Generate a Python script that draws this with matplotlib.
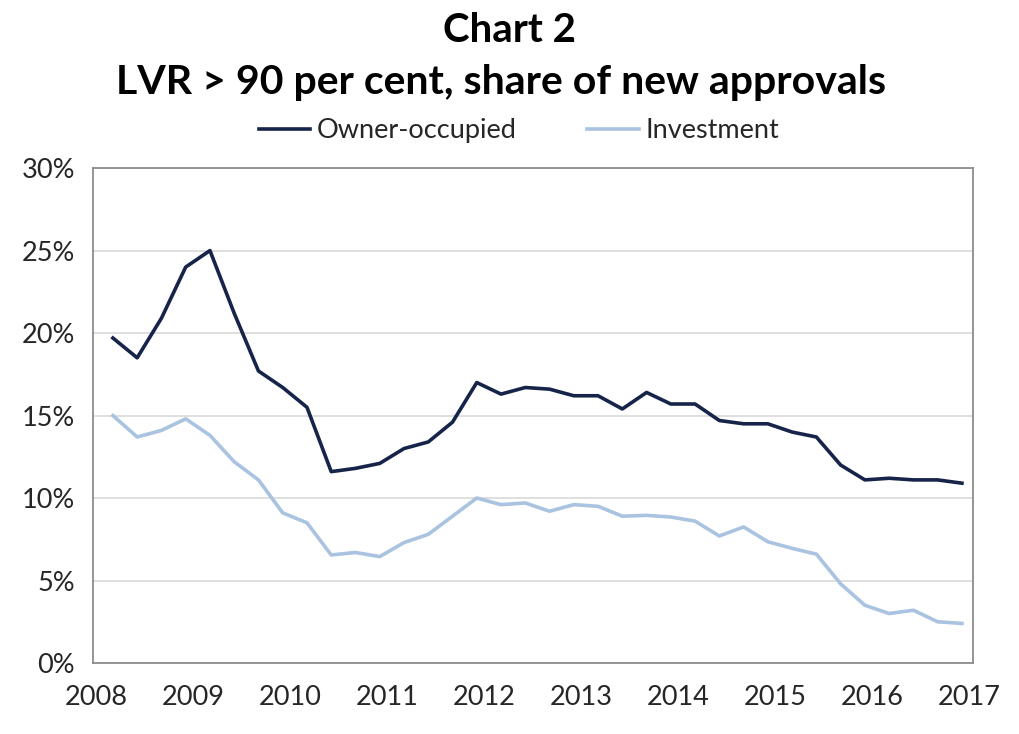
import numpy as np
import matplotlib
matplotlib.use("Agg")
import matplotlib.pyplot as plt
import matplotlib.ticker as ticker

plt.rcParams['font.family'] = ['Lato', 'DejaVu Sans']

# quarterly data, Q1 2008 - Q4 2016 (per cent)
owner_occupied = [19.7, 18.5, 20.9, 24.0, 25.0, 21.2, 17.7, 16.7, 15.5,
                  11.6, 11.8, 12.1, 13.0, 13.4, 14.6, 17.0, 16.3, 16.7,
                  16.6, 16.2, 16.2, 15.4, 16.4, 15.7, 15.7, 14.7, 14.5,
                  14.5, 14.0, 13.7, 12.0, 11.1, 11.2, 11.1, 11.1, 10.9]
investment = [15.0, 13.7, 14.1, 14.8, 13.8, 12.2, 11.1, 9.1, 8.5,
              6.55, 6.7, 6.45, 7.3, 7.8, 8.9, 10.0, 9.6, 9.7,
              9.2, 9.6, 9.5, 8.9, 8.95, 8.85, 8.6, 7.7, 8.25,
              7.35, 6.95, 6.6, 4.8, 3.5, 3.0, 3.2, 2.5, 2.4]
years = list(range(2008, 2018))
y_ticks = [0, 5, 10, 15, 20, 25, 30]

dark = '#17244A'
light = '#A9C3E0'

# quarter positions on a decimal-year axis
x = 2008.175 + 0.25 * np.arange(len(owner_occupied))

fig = plt.figure(figsize=(10.2, 7.34), dpi=100)
ax = fig.add_axes([0.0912, 0.0967, 0.8628, 0.6743])

ax.plot(x, owner_occupied, color=dark, lw=2.6, label='Owner-occupied', zorder=3)
ax.plot(x, investment, color=light, lw=2.6, label='Investment', zorder=3)

ax.set_xlim(2007.97, 2017.04)
ax.set_ylim(0, 30)
ax.set_xticks(years)
ax.set_xticklabels([str(yr) for yr in years])
ax.set_yticks(y_ticks)
ax.yaxis.set_major_formatter(ticker.FuncFormatter(lambda v, p: f'{int(v)}%'))
ax.tick_params(length=0, labelsize=19.5, colors='#262626')
ax.tick_params(axis='x', pad=16)
ax.tick_params(axis='y', pad=13)

ax.grid(axis='y', color='#D9D9D9', lw=1.2, zorder=0)
for sp in ax.spines.values():
    sp.set_color('#8C8C8C')
    sp.set_linewidth(1.3)

fig.text(0.5, 0.958, 'Chart 2', ha='center', va='center',
         fontsize=29, fontweight='bold', color='black')
fig.text(0.491, 0.888, 'LVR > 90 per cent, share of new approvals', ha='center',
         va='center', fontsize=29.5, fontweight='bold', color='black')

fig.legend(loc='center', bbox_to_anchor=(0.509, 0.822), ncol=2, frameon=False,
           fontsize=19.5, handlelength=1.9, handletextpad=0.25, columnspacing=2.6,
           labelcolor='#262626')

fig.savefig('out.png', dpi=100)
